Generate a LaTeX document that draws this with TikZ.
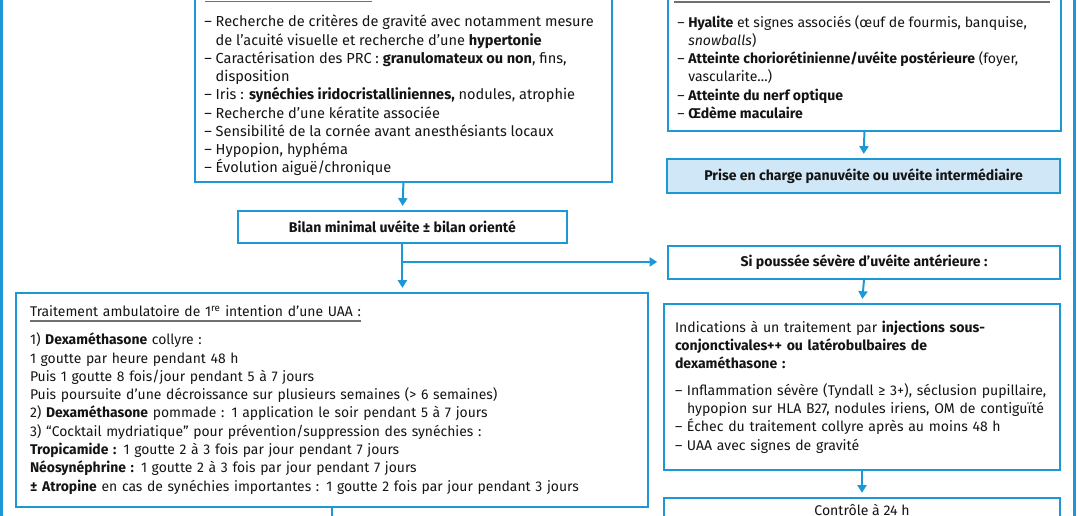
\documentclass[tikz,border=0pt]{standalone}
\usepackage{fontspec}
\setmainfont{Fira Sans}
\newfontfamily\narrowfont{Fira Sans}[FakeStretch=0.99]
\usepackage{xcolor}
\definecolor{uvBlue}{HTML}{1B98D5}
\definecolor{uvPale}{HTML}{CFE7F6}
\definecolor{uvGray}{HTML}{707070}
\definecolor{uvInk}{HTML}{141414}
\usepackage{tikz}
\usetikzlibrary{arrows.meta}
\newcommand{\itm}{–\ }
\newcommand{\ind}{\phantom{–\ }}
\newcommand{\uhead}[1]{\leavevmode\setbox0\hbox{#1}\rlap{\color{uvGray}\rule[-3.6pt]{\wd0}{1pt}}\box0}

\begin{document}
\begin{tikzpicture}[
    >={Triangle[width=6.5pt,length=5.5pt]},
    frame/.style={draw=uvBlue, line width=1.3pt, inner sep=0pt},
    box/.style={
        draw=uvBlue, line width=1.3pt, align=left, text=uvInk,
        font=\fontsize{10}{13}\selectfont
    },
    title/.style={box, align=center, inner sep=0pt,
        font=\fontsize{10}{13}\selectfont\bfseries},
    txt/.style={inner sep=0pt, align=left, text=uvInk,
        font=\fontsize{10}{13}\selectfont},
    % connectors
    flow/.style={->, draw=uvBlue, line width=1.4pt, shorten >=3pt},
    headrule/.style={draw=uvGray, line width=0.9pt},
]

\useasboundingbox (0,0) rectangle (26.95,-12.9);
\clip (0,0) rectangle (26.95,-12.9);

% outer frame, only its two sides fall inside the picture
\draw[uvBlue, line width=1.8pt] (0.035,1) rectangle (26.86,-14);

%% =================================================================
%% Top row: examination (left) and posterior signs (right)
%% =================================================================
\node[frame, anchor=south west, minimum width=10.425cm, minimum height=5.2cm]
    (crit) at (4.85,-4.575) {};
\draw[headrule] (5.125,-0.03) -- (9.3,-0.03);
\node[txt, font=\fontsize{10.35}{13}\selectfont, anchor=north west]
    (critxt) at (5.1,-0.37) {
  \itm Recherche de critères de gravité avec notamment mesure\\
  \ind de l’acuité visuelle et recherche d’une \textbf{hypertonie}\\
  \itm Caractérisation des PRC : \textbf{granulomateux ou non}, fins,\\
  \ind disposition\\
  \itm Iris : \textbf{synéchies iridocristalliniennes,} nodules, atrophie\\
  \itm Recherche d’une kératite associée\\
  \itm Sensibilité de la cornée avant anesthésiants locaux\\
  \itm Hypopion, hyphéma\\
  \itm Évolution aiguë/chronique
};

\node[frame, anchor=south west, minimum width=9.825cm, minimum height=4cm]
    (post) at (16.675,-3.3) {};
\draw[headrule] (16.85,-0.05) -- (26.25,-0.05);
\node[txt, anchor=north west] (posttxt) at (16.925,-0.375) {
  \itm \textbf{Hyalite} et signes associés (œuf de fourmis, banquise,\\
  \ind \textit{snowballs})\\
  \itm \textbf{Atteinte choriorétinienne/uvéite postérieure} (foyer,\\
  \ind vascularite…)\\
  \itm \textbf{Atteinte du nerf optique}\\
  \itm \textbf{Œdème maculaire}
};

\node[title, fill=uvPale, minimum width=9.825cm, minimum height=0.85cm]
    (prise) at (21.59,-4.4) {Prise en charge panuvéite ou uvéite intermédiaire};

%% =================================================================
%% Middle: work-up and severe flare
%% =================================================================
\node[title, minimum width=8.225cm, minimum height=0.8cm]
    (bilan) at (10.06,-5.675) {Bilan minimal uvéite ± bilan orienté};

\node[title, minimum width=9.8cm, minimum height=0.825cm]
    (sev) at (21.6,-6.5625) {Si poussée sévère d’uvéite antérieure :};

%% =================================================================
%% Bottom left: ambulatory treatment
%% =================================================================
\node[box, font=\fontsize{10}{13}\selectfont\narrowfont,
      text width=15.1cm, inner xsep=0.35cm, minimum height=5.35cm]
    (treat) at (8.3,-10.0) {
  \uhead{Traitement ambulatoire de 1\textsuperscript{re} intention d’une UAA :}\\[7pt]
  1) \textbf{Dexaméthasone} collyre :\\
  1 goutte par heure pendant 48 h\\
  Puis 1 goutte 8 fois/jour pendant 5 à 7 jours\\
  Puis poursuite d’une décroissance sur plusieurs semaines (> 6 semaines)\\
  2) \textbf{Dexaméthasone} pommade : 1 application le soir pendant 5 à 7 jours\\
  3) “Cocktail mydriatique” pour prévention/suppression des synéchies :\\
  \textbf{Tropicamide :} 1 goutte 2 à 3 fois par jour pendant 7 jours\\
  \textbf{Néosynéphrine :} 1 goutte 2 à 3 fois par jour pendant 7 jours\\
  \textbf{± Atropine} en cas de synéchies importantes : 1 goutte 2 fois par jour pendant 3 jours
};
\coordinate (treatout) at (8.3,-13.6);

%% =================================================================
%% Bottom right: injections and follow-up
%% =================================================================
\node[box, text width=9.35cm, inner xsep=0.275cm, minimum height=4.15cm]
    (indic) at (21.55,-9.675) {
  Indications à un traitement par \textbf{injections sous-}\\
  \textbf{conjonctivales++ ou latérobulbaires de}\\
  \textbf{dexaméthasone :}\\[6pt]
  \itm Inflammation sévère (Tyndall ≥ 3+), séclusion pupillaire,\\
  \ind hypopion sur HLA B27, nodules iriens, OM de contiguïté\\
  \itm Échec du traitement collyre après au moins 48 h\\
  \itm UAA avec signes de gravité
};

\node[box, align=center, anchor=north, minimum width=9.9cm, minimum height=0.62cm,
      inner ysep=0pt]
    (ctrl) at (21.55,-12.425) {Contrôle à 24 h};

%% =================================================================
%% Connectors (drawn last)
%% =================================================================
\draw[flow] (crit.south) -- (bilan.north);
\draw[flow] (post.south) -- (prise.north);
\draw[flow] (bilan.south) -- (bilan.south |- treat.north);
\path (bilan.south) ++(0,-0.45) coordinate (split);
\draw[flow, shorten >=7pt] (split) -- (split -| sev.west);
\draw[flow] (sev.south) -- (indic.north);
\draw[flow] (indic.south) -- (ctrl.north);
\draw[flow] (treat.south) -- (treatout);

\end{tikzpicture}
\end{document}
